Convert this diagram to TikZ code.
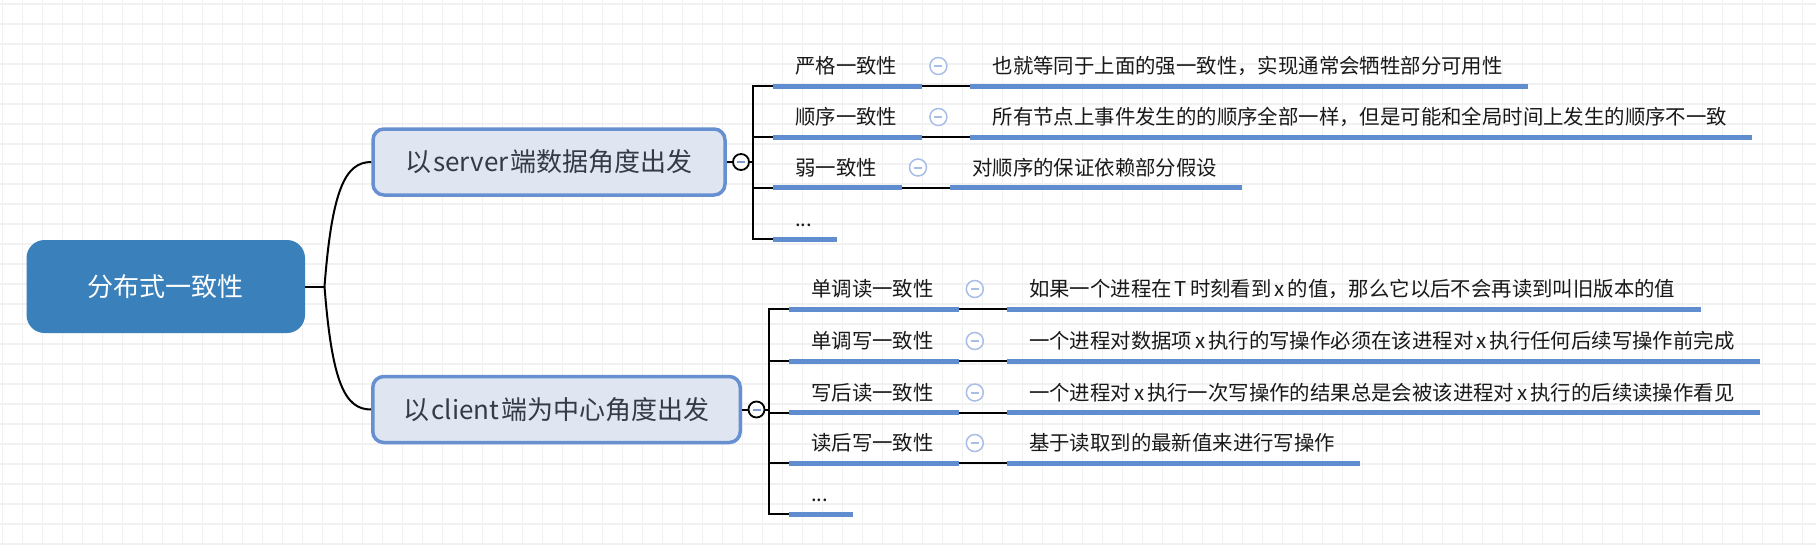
\documentclass[tikz,border=0pt]{standalone}
\usepackage{fontspec}
\setmainfont{Noto Sans CJK SC}
\definecolor{rootblue}{HTML}{3A80BA}
\definecolor{boxfill}{HTML}{DFE6F1}
\definecolor{boxline}{HTML}{6690CF}
\definecolor{ublue}{HTML}{5F8DCF}
\definecolor{cblue}{HTML}{A9BEE7}
\definecolor{mblue}{HTML}{7D9BD6}
\definecolor{gridc}{HTML}{F1F1F1}
\definecolor{titlec}{HTML}{333B47}
\newcommand\mylat[1]{\hspace{3pt}#1\hspace{3pt}}
\tikzset{
 gridline/.style={draw=gridc, line width=1.5pt},
 rootbox/.style={fill=rootblue, rounded corners=18pt, minimum width=278.5pt, minimum height=93pt, text=white, font=\fontsize{26pt}{30pt}\selectfont, inner sep=0pt},
 titlebox/.style={draw=boxline, fill=boxfill, line width=3.5pt, rounded corners=11pt, minimum height=66pt, text=titlec, font=\fontsize{26pt}{30pt}\selectfont, inner sep=0pt},
 conn/.style={draw=black, line width=2pt},
 uline/.style={draw=ublue, line width=5pt},
 itemtext/.style={anchor=base west, inner sep=0pt, font=\fontsize{20.4pt}{24pt}\selectfont, text=black!90},
 foldmain/.style={circle, draw=black, line width=1.8pt, fill=white, minimum size=16pt, inner sep=0pt,
   path picture={\draw[mblue, line width=2pt] ([xshift=-4pt]path picture bounding box.center) -- ([xshift=4pt]path picture bounding box.center);}},
 folditem/.style={circle, draw=cblue, line width=1.5pt, fill=white, minimum size=17pt, inner sep=0pt,
   path picture={\draw[cblue, line width=2pt] ([xshift=-4pt]path picture bounding box.center) -- ([xshift=4pt]path picture bounding box.center);}},
}
% #1 name, #2 underline y, #3 underline start x, #4 label, #5 description
\newcommand\mmrow[5]{%
  \coordinate (#1a) at (#3,#2);
  \path (#1a) ++(22,-12.2) node[itemtext] (#1l) {#4};
  \path (#1l.base east) ++(25,12.2) coordinate (#1b);
  \path (#1b) ++(16,-20) node[folditem] (#1c) {};
  \path (#1b) ++(48,0) coordinate (#1d);
  \path (#1d) ++(22,-12.2) node[itemtext] (#1t) {#5};
  \path (#1t.base east) ++(25,12.2) coordinate (#1e);
  \draw[uline] (#1a) -- (#1b);
  \draw[conn] (#1b) -- (#1d);
  \draw[uline] (#1d) -- (#1e);
}
\newcommand\mmend[3]{%
  \coordinate (#1a) at (#3,#2);
  \path (#1a) ++(22,-12.2) node[itemtext] (#1l) {...};
  \path (#1l.base east) ++(25,12.2) coordinate (#1b);
  \draw[uline] (#1a) -- (#1b);
}
\begin{document}
\begin{tikzpicture}[x=1pt,y=-1pt]
\fill[white] (0,0) rectangle (1816,544);
\useasboundingbox (0,0) rectangle (1816,544);
\foreach \i in {0,...,90} {\draw[gridline] ({2.7+20*\i},0) -- ({2.7+20*\i},544);}
\foreach \j in {0,...,27} {\draw[gridline] (0,{4+20*\j}) -- (1816,{4+20*\j});}

% root and main topics
\node[rootbox] (root) at (165.75,286.5) {分布式一致性};
\node[titlebox, minimum width=352pt] (srv) at (549,162) {以\hspace{2pt}server\hspace{2pt}端数据角度出发};
\node[titlebox, minimum width=367.5pt] (cli) at (556.5,409.5) {以\hspace{2pt}client\hspace{2pt}端为中心角度出发};
\coordinate (rj) at (324.5,286.5);
\draw[conn] (root.east) -- (rj);
\draw[conn] (rj) .. controls (332,190) and (345,162) .. (srv.west);
\draw[conn] (rj) .. controls (332,383) and (345,409.5) .. (cli.west);

% server branch
\node[foldmain] (sf) at (741,162) {};
\draw[conn] (srv.east) -- (sf.west);
\coordinate (sT) at (753,162);
\draw[conn] (sf.east) -- (sT);
\mmrow{s1}{86}{773}{严格一致性}{也就等同于上面的强一致性，实现通常会牺牲部分可用性}
\mmrow{s2}{137}{773}{顺序一致性}{所有节点上事件发生的的顺序全部一样，但是可能和全局时间上发生的顺序不一致}
\mmrow{s3}{187.5}{773}{弱一致性}{对顺序的保证依赖部分假设}
\mmend{s4}{239}{773}
\draw[conn] (s1a) -| (sT);
\draw[conn] (s4a) -| (sT);
\draw[conn] (s2a) -- (s2a -| sT);
\draw[conn] (s3a) -- (s3a -| sT);

% client branch
\node[foldmain] (cf) at (756.5,409.5) {};
\draw[conn] (cli.east) -- (cf.west);
\coordinate (cT) at (768.5,409.5);
\draw[conn] (cf.east) -- (cT);
\mmrow{c1}{309}{789}{单调读一致性}{如果一个进程在\mylat{T}时刻看到\mylat{x}的值，那么它以后不会再读到叫旧版本的值}
\mmrow{c2}{361}{789}{单调写一致性}{一个进程对数据项\mylat{x}执行的写操作必须在该进程对\mylat{x}执行任何后续写操作前完成}
\mmrow{c3}{412.5}{789}{写后读一致性}{一个进程对\mylat{x}执行一次写操作的结果总是会被该进程对\mylat{x}执行的后续读操作看见}
\mmrow{c4}{463}{789}{读后写一致性}{基于读取到的最新值来进行写操作}
\mmend{c5}{514}{789}
\draw[conn] (c1a) -| (cT);
\draw[conn] (c5a) -| (cT);
\draw[conn] (c2a) -- (c2a -| cT);
\draw[conn] (c3a) -- (c3a -| cT);
\draw[conn] (c4a) -- (c4a -| cT);
\end{tikzpicture}
\end{document}
